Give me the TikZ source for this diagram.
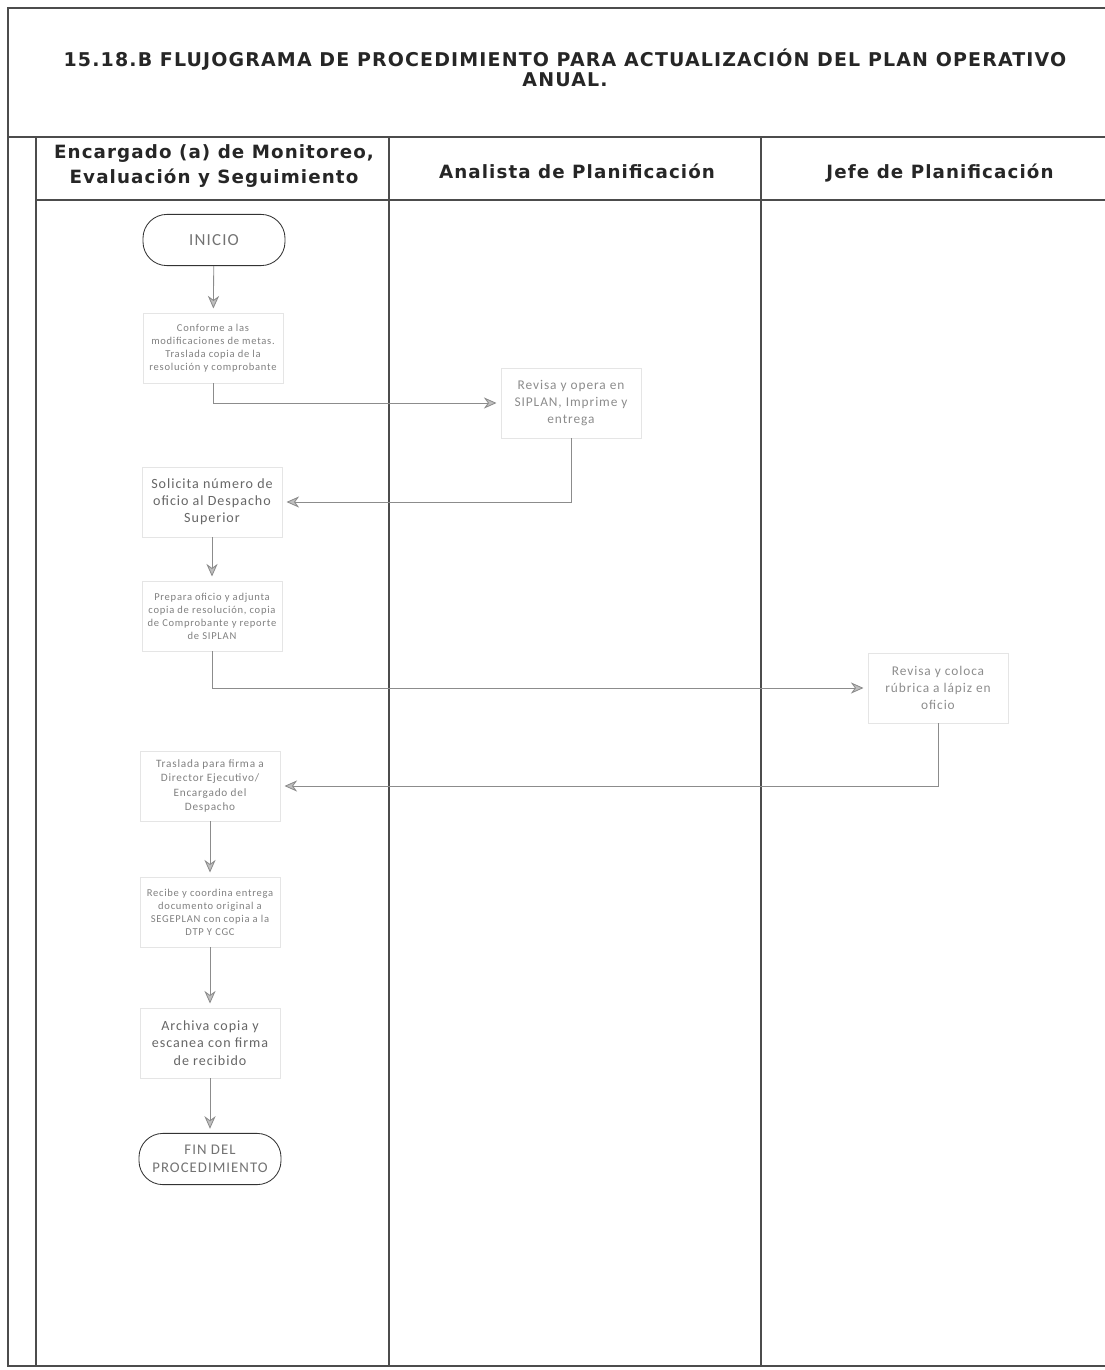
\documentclass[tikz,border=0pt]{standalone}
\usepackage{fontspec}
\setmainfont{Carlito}[LetterSpace=7]
\newfontfamily\headfont{DejaVu Sans}[LetterSpace=6]
\usetikzlibrary{arrows.meta, positioning, calc}

\begin{document}
\begin{tikzpicture}[
    x=0.025cm, y=-0.025cm,
    frame/.style={draw=black!70, line width=0.8pt},
    lanehead/.style={font=\headfont\bfseries\fontsize{13}{18}\selectfont, align=center, text=black!85},
    terminal/.style={draw=black!80, line width=0.6pt, rounded corners=17pt, minimum width=3.55cm, minimum height=1.28cm, align=center, text=black!55, font=\fontsize{#1}{12.5}\selectfont},
    terminal/.default=10,
    stepbox/.style={draw=black!10, line width=0.4pt, minimum width=3.5cm, minimum height=1.75cm, align=center, text=black!50, font=#1},
    stepbox/.default=\fontsize{7.5}{9.2}\selectfont,
    bigbox/.style={stepbox=\fontsize{10}{12.2}\selectfont, text=black!60},
    midbox/.style={stepbox=\fontsize{9.5}{12.1}\selectfont, text=black!45},
    flow/.style={draw=black!45, line width=0.6pt, -{Stealth[length=9pt, width=8pt, fill=black!25]}, shorten >=3pt}
]
\useasboundingbox (0,0) rectangle (1105,1370);

% --- Frame and lanes ---
\def\Fl{8}    % frame left
\def\Fr{1105} % frame right
\def\Ft{8}    % frame top
\def\Fb{1366} % frame bottom
\def\Ht{137}  % header top
\def\Hb{200}  % header bottom
\def\Li{36}   % inner left
\def\La{389}  % lane divider 1
\def\Lb{761}  % lane divider 2

\draw[frame] (\Fr,\Ft) -- (\Fl,\Ft) -- (\Fl,\Fb) -- (\Fr,\Fb);
\draw[frame] (\Fl,\Ht) -- (\Fr,\Ht);
\draw[frame] (\Li,\Hb) -- (\Fr,\Hb);
\foreach \x in {\Li, \La, \Lb} {
    \draw[frame] (\x,\Ht) -- (\x,\Fb);
}

% --- Title ---
\node[font=\headfont\bfseries\fontsize{13.5}{14}\selectfont, align=center, text=black!85] (title) at (565,68)
    {15.18.B FLUJOGRAMA DE PROCEDIMIENTO PARA ACTUALIZACIÓN DEL PLAN OPERATIVO\\ANUAL.};

% --- Lane headers ---
\node[lanehead] (encargado) at (214,166) {Encargado (a) de Monitoreo,\\Evaluación y Seguimiento};
\node[lanehead] (analista)  at (577,171) {Analista de Planificación};
\node[lanehead] (jefe)      at (940,173) {Jefe de Planificación};

% --- Steps ---
\node[terminal=12] (inicio) at (214,240) {INICIO};
\node[stepbox] (traslada) at (213,348) {Conforme a las\\modificaciones de metas.\\Traslada copia de la\\resolución y comprobante};
\node[midbox] (revisa) at (571,403) {Revisa y opera en\\SIPLAN, Imprime y\\entrega};
\node[bigbox] (solicita) at (212,502) {Solicita número de\\oficio al Despacho\\Superior};
\node[stepbox] (prepara) at (212,616) {Prepara oficio y adjunta\\copia de resolución, copia\\de Comprobante y reporte\\de SIPLAN};
\node[midbox] (rubrica) at (938,688) {Revisa y coloca\\rúbrica a lápiz en\\oficio};
\node[stepbox=\fontsize{8}{10.4}\selectfont] (firma) at (210,786) {Traslada para firma a\\Director Ejecutivo/\\Encargado del\\Despacho};
\node[stepbox] (recibe) at (210,912) {Recibe y coordina entrega\\documento original a\\SEGEPLAN con copia a la\\DTP Y CGC};
\node[bigbox] (archiva) at (210,1043) {Archiva copia y\\escanea con firma\\de recibido};
\node[terminal=10.5] (fin) at (210,1159) {FIN DEL\\PROCEDIMIENTO};

% --- Connectors ---
\draw[flow] (inicio) -- (traslada);
\draw[flow] (traslada.south) |- (revisa.west);
\draw[flow] (revisa.south) |- (solicita.east);
\draw[flow] (solicita) -- (prepara);
\draw[flow] (prepara.south) |- (rubrica.west);
\draw[flow] (rubrica.south) |- (firma.east);
\draw[flow] (firma) -- (recibe);
\draw[flow] (recibe) -- (archiva);
\draw[flow] (archiva) -- (fin);

\end{tikzpicture}
\end{document}
